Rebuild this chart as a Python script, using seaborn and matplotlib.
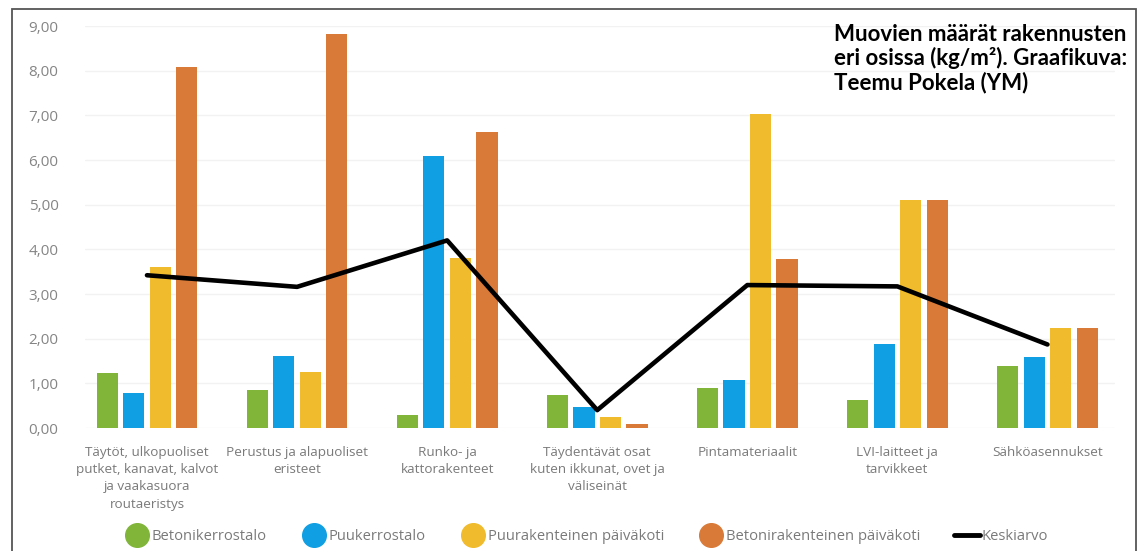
import numpy as np
import pandas as pd
import matplotlib
matplotlib.use("Agg")
import matplotlib.pyplot as plt
from matplotlib.lines import Line2D
from matplotlib.patches import Rectangle
import seaborn as sns

categories = [
    "Täytöt, ulkopuoliset\nputket, kanavat, kalvot\nja vaakasuora\nroutaeristys",
    "Perustus ja alapuoliset\neristeet",
    "Runko- ja\nkattorakenteet",
    "Täydentävät osat\nkuten ikkunat, ovet ja\nväliseinät",
    "Pintamateriaalit",
    "LVI-laitteet ja\ntarvikkeet",
    "Sähköasennukset",
]
series = ["Betonikerrostalo", "Puukerrostalo", "Puurakenteinen päiväkoti", "Betonirakenteinen päiväkoti"]
betonikerrostalo = [1.24, 0.85, 0.29, 0.74, 0.90, 0.63, 1.39]
puukerrostalo = [0.79, 1.62, 6.09, 0.47, 1.08, 1.89, 1.60]
puu_paivakoti = [3.60, 1.26, 3.80, 0.25, 7.03, 5.10, 2.25]
betoni_paivakoti = [8.09, 8.83, 6.63, 0.10, 3.78, 5.10, 2.25]
keskiarvo = [3.42, 3.16, 4.20, 0.40, 3.20, 3.17, 1.87]
yticks = [0, 1, 2, 3, 4, 5, 6, 7, 8, 9]
title = "Muovien määrät rakennusten\neri osissa (kg/m²). Graafikuva:\nTeemu Pokela (YM)"

colors = ["#80b53a", "#0f9fe2", "#f0bb2c", "#d97a38"]

rows = []
for s, vals in zip(series, [betonikerrostalo, puukerrostalo, puu_paivakoti, betoni_paivakoti]):
    for c, v in zip(categories, vals):
        rows.append({"cat": c, "series": s, "value": v})
df = pd.DataFrame(rows)

sns.set_theme(style="white")
plt.rcParams["font.family"] = ["Open Sans", "DejaVu Sans"]

fig = plt.figure(figsize=(11.47, 5.51), dpi=100)
ax = fig.add_axes([85 / 1147, 123 / 551, 1030 / 1147, 402 / 551])

sns.barplot(data=df, x="cat", y="value", hue="series", palette=colors,
            width=0.707, gap=0.2, linewidth=0, saturation=1, ax=ax, legend=False,
            order=categories, hue_order=series, errorbar=None)
sns.lineplot(x=np.arange(len(categories)), y=keskiarvo, color="black",
             linewidth=3.3, ax=ax, legend=False)

ax.set_xlim(-0.413, 6.45)
ax.set_ylim(0, 9)
ax.set_yticks(yticks)
ax.set_yticklabels([f"{t:.2f}".replace(".", ",") for t in yticks],
                   color="#858585", fontsize=11)
ax.set_xticks(range(len(categories)))
ax.set_xticklabels(categories, color="#7a7a7a", fontsize=9.7, linespacing=1.42)
ax.tick_params(axis="both", length=0)
ax.tick_params(axis="x", pad=13)
ax.tick_params(axis="y", pad=19)
ax.set_xlabel("")
ax.set_ylabel("")
ax.grid(axis="y", color="#f2f2f2", linewidth=1)
ax.set_axisbelow(True)
for sp in ax.spines.values():
    sp.set_visible(False)

# frame
fig.patches.append(Rectangle((12 / 1147, -0.05), (1136 - 12) / 1147, (551 - 9) / 551 + 0.05,
                             transform=fig.transFigure, fill=False,
                             edgecolor="#555555", linewidth=1.3))

fig.text(834 / 1147, 1 - 24 / 551, title, ha="left", va="top", fontsize=16,
         fontweight="bold", color="black", family=["Lato", "DejaVu Sans"], linespacing=1.12)

handles = [Line2D([0], [0], marker="o", linestyle="none", markersize=17,
                  markerfacecolor=c, markeredgecolor=c) for c in colors]
handles.append(Line2D([0], [0], color="black", linewidth=3.5))
labels = series + ["Keskiarvo"]
leg = fig.legend(handles, labels, loc="center", bbox_to_anchor=(0.511, 14 / 551),
                 ncol=5, frameon=False, fontsize=10.6, handletextpad=0.1,
                 columnspacing=2.3, handlelength=1.8, borderpad=0, borderaxespad=0)
for t in leg.get_texts():
    t.set_color("#7a7a7a")

fig.savefig("out.png", dpi=100, facecolor="white")
